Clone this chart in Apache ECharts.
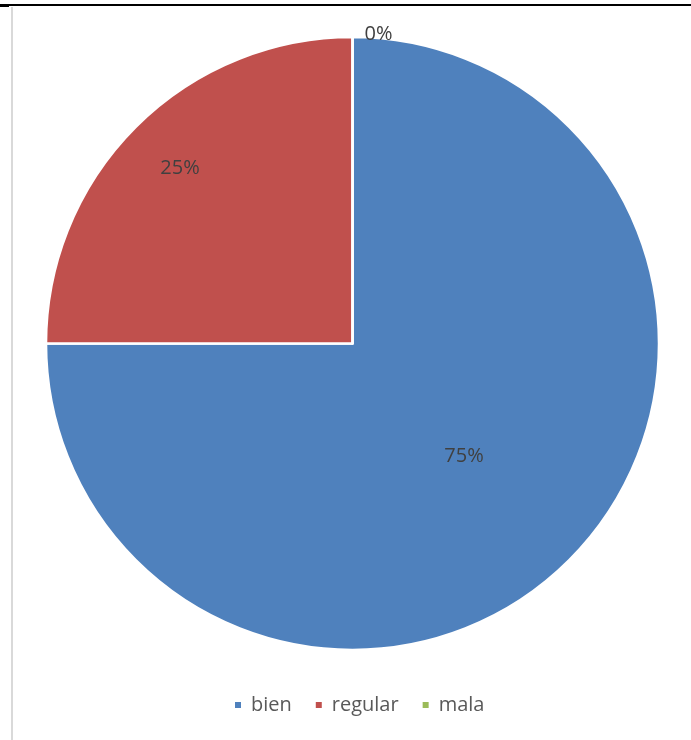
<!DOCTYPE html>
<html><head><meta charset="utf-8">
<script src="https://cdn.jsdelivr.net/npm/echarts@6/dist/echarts.min.js"></script>
<style>html,body{margin:0;padding:0;background:#fff}#c{width:691px;height:740px}</style>
</head><body><div id="c"></div>
<script>
var categories = ['bien', 'regular', 'mala'];
var values = [75, 25, 0];
var colors = ['#4F81BD', '#C0504D', '#9BBB59'];

var chart = echarts.init(document.getElementById('c'));
var data = categories.map(function (n, i) {
  var d = { name: n, value: values[i], itemStyle: { color: colors[i] } };
  if (i === 0) d.label = { offset: [1, 2] };
  if (i === 1) d.label = { offset: [-62, -65] };
  if (i === 2) d.label = { position: 'outside', offset: [57, 1] };
  return d;
});
chart.setOption({
  animation: false,
  graphic: [
    { type: 'rect', shape: { x: 0, y: 4, width: 691, height: 2 }, style: { fill: '#000' }, silent: true },
    { type: 'rect', shape: { x: 0, y: 4, width: 9, height: 3 }, style: { fill: '#000' }, silent: true },
    { type: 'rect', shape: { x: 11, y: 7, width: 2, height: 733 }, style: { fill: '#d9d9d9' }, silent: true }
  ],
  legend: {
    bottom: 20, left: 228,
    itemWidth: 8, itemHeight: 8, itemGap: 22, icon: 'rect',
    textStyle: { fontFamily: 'Open Sans', fontSize: 20, color: '#595959', padding: [0, 0, 0, 4] },
    data: categories
  },
  series: [{
    type: 'pie',
    center: [352.5, 343.5],
    radius: [0, 306.5],
    startAngle: 90,
    clockwise: true,
    avoidLabelOverlap: false,
    itemStyle: { borderColor: '#fff', borderWidth: 2.5 },
    label: {
      show: true, position: 'inside',
      formatter: '{d}%',
      fontFamily: 'Open Sans', fontSize: 20, color: '#404040'
    },
    labelLine: { show: false, length: 4, length2: 12 },
    emphasis: { disabled: true },
    data: data
  }]
});
</script></body></html>
